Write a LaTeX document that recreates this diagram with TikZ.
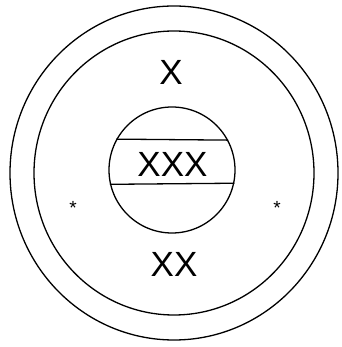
\documentclass[tikz,border=0pt]{standalone}
\usepackage{fontspec}
\setmainfont{Liberation Sans}
\usepackage{tikz}

\begin{document}
\begin{tikzpicture}[x=1pt,y=1pt, ring/.style={draw,line width=1.3pt}, lbl/.style={font=\fontsize{35}{40}\selectfont,inner sep=0pt}, star/.style={font=\fontsize{19}{20}\selectfont,inner sep=0pt,anchor=north}]
\useasboundingbox (0,0) rectangle (341,347);
\draw[ring] (174,174) ellipse [x radius=164,y radius=167];
\draw[ring] (174,174) ellipse [x radius=140,y radius=142];
\node[ring,circle,minimum size=126pt,inner sep=0pt] (core) at (172,177) {};
\draw[ring] (core.151.6) -- (core.28.4);
\draw[ring] (core.-167.2) -- (core.-12.8);
\node[lbl] (top) at (171,274.5) {X};
\node[lbl] (mid) at (172.5,182.5) {XXX};
\node[lbl] (bot) at (174,82.5) {XX};
\node[star] (sl) at (73,145.5) {*};
\node[star] (sr) at (277,145.5) {*};
\end{tikzpicture}
\end{document}
